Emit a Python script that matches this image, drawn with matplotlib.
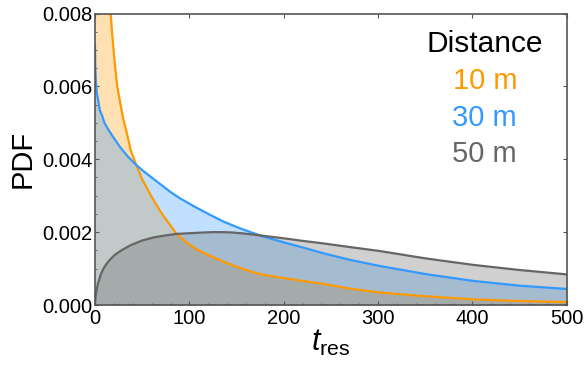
import matplotlib.pyplot as plt
from matplotlib.ticker import MultipleLocator, FixedLocator

plt.rcParams["font.family"] = ["Liberation Sans", "DejaVu Sans"]
plt.rcParams["mathtext.fontset"] = "custom"
plt.rcParams["mathtext.it"] = "Liberation Sans:italic"
plt.rcParams["mathtext.rm"] = "Liberation Sans"

# values (t_res, PDF)
t_10 = [0, 3, 6, 10, 13, 16.6, 18, 20, 21.5, 23.6, 26, 30, 33, 37.8, 43.8, 50,
        60, 70, 78, 86, 93, 100, 109, 120, 136, 150, 171, 185, 200, 220, 242,
        270, 302, 350, 401, 450, 500]
pdf_10 = [0.060, 0.030, 0.020, 0.0125, 0.0098, 0.0080, 0.0075, 0.0069, 0.0065,
          0.0060, 0.00565, 0.0051, 0.0048, 0.00425, 0.00384, 0.00345, 0.00297,
          0.00254, 0.00225, 0.00197, 0.0018, 0.00166, 0.00151, 0.00137,
          0.00119, 0.00105, 0.00087, 0.0008, 0.00074, 0.00066, 0.00058,
          0.00045, 0.00034, 0.00024, 0.000155, 0.00011, 0.00008]

t_30 = [0, 0.3, 1, 2, 3.5, 5, 7.5, 10, 14, 19, 27, 35, 43.8, 52, 60, 70, 80,
        90, 100, 109, 120, 136, 155, 178, 200, 220, 242, 270, 302, 350, 401,
        450, 500]
pdf_30 = [0.0071, 0.0065, 0.0061, 0.0058, 0.0056, 0.00535, 0.0052, 0.0050,
          0.00482, 0.00462, 0.00432, 0.00407, 0.00384, 0.00366, 0.0035, 0.0033,
          0.0031, 0.00293, 0.00278, 0.00265, 0.0025, 0.00229, 0.00209,
          0.00188, 0.00172, 0.00158, 0.00142, 0.00124, 0.00107, 0.00085,
          0.00066, 0.00053, 0.00044]

t_50 = [0, 0.2, 0.5, 1, 2, 3.2, 4.5, 6, 8, 10.2, 12.5, 15, 18, 20.8, 25, 30,
        38.5, 50, 63, 75, 86, 100, 115, 125, 136, 145, 155, 165, 178, 200,
        220, 242, 270, 302, 350, 401, 450, 500]
pdf_50 = [0.0, 0.00012, 0.0002, 0.0003, 0.00045, 0.0006, 0.0007, 0.00083,
          0.00095, 0.00105, 0.00114, 0.00122, 0.0013, 0.00137, 0.00145,
          0.00153, 0.00165, 0.00177, 0.00186, 0.00191, 0.00195, 0.00197,
          0.00199, 0.0020, 0.0020, 0.00199, 0.00197, 0.00194, 0.0019,
          0.00183, 0.00176, 0.00169, 0.00159, 0.00148, 0.00128, 0.0011,
          0.00096, 0.00084]

labels = ["10 m", "30 m", "50 m"]
colors = ["#ff9900", "#3399ff", "#666666"]
series = [(t_10, pdf_10), (t_30, pdf_30), (t_50, pdf_50)]

fig = plt.figure(figsize=(5.85, 3.73), dpi=100)
ax = fig.add_axes([0.1624, 0.1823, 0.8066, 0.7815])

for (t, p), c in zip(series, colors):
    ax.fill_between(t, p, 0, color=c, alpha=0.3, linewidth=0)
for (t, p), c in zip(series, colors):
    ax.plot(t, p, color=c, lw=1.6)

ax.set_xlim(0, 500)
ax.set_ylim(0, 0.008)
ax.xaxis.set_major_locator(MultipleLocator(100))
ax.xaxis.set_minor_locator(MultipleLocator(20))
ax.yaxis.set_major_locator(FixedLocator([0, 0.002, 0.004, 0.006, 0.008]))
ax.yaxis.set_minor_locator(MultipleLocator(0.0005))
ax.set_yticklabels(["0.000", "0.002", "0.004", "0.006", "0.008"])
ax.tick_params(which="both", direction="in", top=True, right=True,
               labelsize=14.5, color="#555555", pad=2)
ax.tick_params(axis="x", pad=3)
ax.tick_params(which="major", length=3, width=0.8)
ax.tick_params(which="minor", length=1.5, width=0.6, top=False, right=False)
for s in ax.spines.values():
    s.set_color("#555555")
    s.set_linewidth(1.2)

ax.set_ylabel("PDF", fontsize=21, labelpad=4)
ax.set_xlabel(r"$t$$_{\mathregular{res}}$", fontsize=22, labelpad=0)

ax.text(0.826, 0.897, "Distance", transform=ax.transAxes, ha="center",
        va="center", fontsize=21.5)
for i, (lab, c) in enumerate(zip(labels, colors)):
    ax.text(0.826, 0.767 - i * 0.124, lab, transform=ax.transAxes,
            ha="center", va="center", fontsize=21, color=c)

plt.savefig("out.png", dpi=100)
